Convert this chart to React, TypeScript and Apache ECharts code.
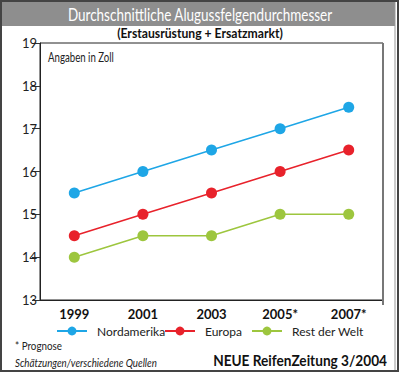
import React, { useEffect, useRef } from "react";
import * as echarts from "echarts";

const years = ["1999", "2001", "2003", "2005*", "2007*"];
const nordamerika = [15.5, 16, 16.5, 17, 17.5];
const europa = [14.5, 15, 15.5, 16, 16.5];
const restDerWelt = [14, 14.5, 14.5, 15, 15];
const seriesNames = ["Nordamerika", "Europa", "Rest der Welt"];
const seriesColors = ["#1ea6e6", "#e8222b", "#9dc63e"];
const yMin = 13;
const yMax = 19;
const yStep = 1;

const F = "Lato, 'Open Sans', sans-serif";

function fitScale(text: string, font: string, target: number) {
  const c = document.createElement("canvas").getContext("2d")!;
  c.font = font;
  const w = c.measureText(text).width;
  return w > 0 ? target / w : 1;
}

export default function App() {
  const ref = useRef<HTMLDivElement>(null);
  useEffect(() => {
    const chart = echarts.init(ref.current!, null, { renderer: "svg" });
    const values = [nordamerika, europa, restDerWelt];
    const legendLeft = [56, 164, 251];

    const texts = [
      { text: "Durchschnittliche Alugussfelgendurchmesser", font: `18px ${F}`, x: 200, y: 14, align: "center", fill: "#ffffff", width: 265 },
      { text: "(Erstausrüstung + Ersatzmarkt)", font: `bold 14px ${F}`, x: 200, y: 33, align: "center", fill: "#111", width: 166 },
      { text: "Angaben in Zoll", font: `13px ${F}`, x: 48, y: 57, align: "left", fill: "#222", width: 66 },
      { text: "* Prognose", font: `12px ${F}`, x: 15, y: 345, align: "left", fill: "#222", width: 47 },
      { text: "Schätzungen/verschiedene Quellen", font: `italic 12px ${F}`, x: 15, y: 362, align: "left", fill: "#222", width: 142 },
      { text: "NEUE ReifenZeitung 3/2004", font: `bold 15px ${F}`, x: 387, y: 360, align: "right", fill: "#111", width: 174 },
    ];

    chart.setOption({
      animation: false,
      backgroundColor: "#ffffff",
      textStyle: { fontFamily: F },
      grid: {
        left: 40,
        top: 43,
        width: 343,
        height: 257,
        show: true,
        borderColor: "#222",
        borderWidth: 1,
        backgroundColor: "transparent",
      },
      xAxis: {
        type: "category",
        data: years,
        boundaryGap: true,
        axisLine: { lineStyle: { color: "#222", width: 1 } },
        axisTick: { length: 5, lineStyle: { color: "#555" } },
        axisLabel: { color: "#111", fontSize: 13, fontWeight: "bold", margin: 7, fontFamily: F },
        splitLine: { show: false },
      },
      yAxis: {
        type: "value",
        min: yMin,
        max: yMax,
        interval: yStep,
        axisLine: { show: true, lineStyle: { color: "#222", width: 1 } },
        axisTick: { show: true, length: 8, lineStyle: { color: "#333" } },
        axisLabel: { color: "#222", fontSize: 13, margin: 3, fontFamily: F },
        splitLine: { show: false },
      },
      legend: seriesNames.map((n, i) => ({
        data: [n],
        left: legendLeft[i],
        top: 325,
        padding: 0,
        itemWidth: 30,
        itemHeight: 11,
        itemGap: 0,
        textStyle: { fontSize: 12, color: "#222", padding: [0, 0, 0, 5], fontFamily: F },
      })),
      series: seriesNames.map((n, i) => ({
        name: n,
        type: "line",
        data: values[i],
        color: seriesColors[i],
        symbol: "circle",
        symbolSize: 11,
        lineStyle: { width: 1.5, color: seriesColors[i] },
        itemStyle: { color: seriesColors[i] },
      })),
      graphic: [
        { type: "rect", shape: { x: 1, y: 1, width: 397, height: 370 }, style: { fill: "none", stroke: "#444", lineWidth: 2 }, z: 10 },
        { type: "line", shape: { x1: 395, y1: 2, x2: 395, y2: 370 }, style: { stroke: "#999", lineWidth: 1 }, z: 10 },
        { type: "rect", shape: { x: 2, y: 2, width: 393, height: 24 }, style: { fill: "#8e8e8e" }, z: 5 },
        { type: "line", shape: { x1: 383, y1: 43, x2: 383, y2: 305 }, style: { stroke: "#777", lineWidth: 2 }, z: 10 },
        ...texts.map((t) => ({
          type: "text",
          x: t.x,
          y: t.y,
          scaleX: Math.min(1.1, fitScale(t.text, t.font, t.width)),
          style: { text: t.text, fill: t.fill, font: t.font, align: t.align, verticalAlign: "middle" },
          z: 11,
        })),
      ],
    });
    return () => chart.dispose();
  }, []);
  return (
    <div
      ref={ref}
      style={{ position: "fixed", left: 0, top: 0, width: 400, height: 373 }}
    />
  );
}
